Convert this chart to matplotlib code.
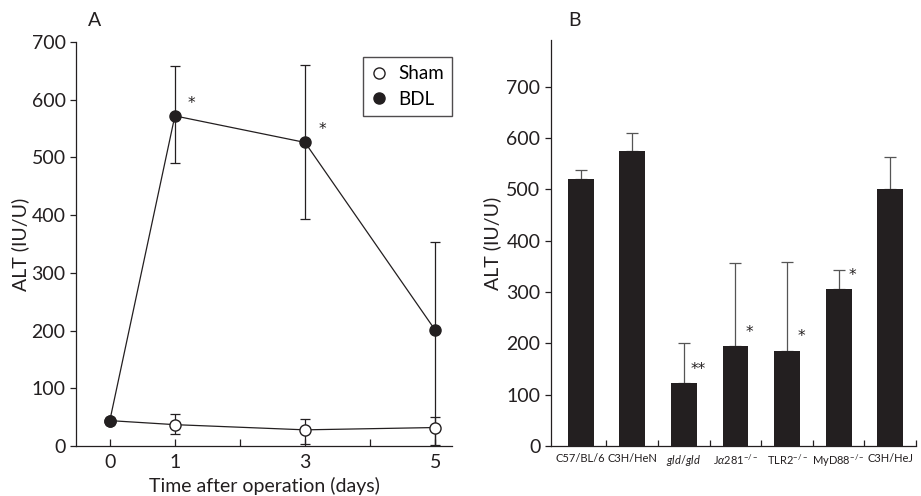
import matplotlib
matplotlib.use("Agg")
import matplotlib.pyplot as plt
from matplotlib.lines import Line2D

plt.rcParams['font.family'] = ['Lato', 'DejaVu Sans']
plt.rcParams['mathtext.fontset'] = 'custom'
plt.rcParams['mathtext.rm'] = 'Lato'
plt.rcParams['mathtext.it'] = 'Lato:italic'

# Panel A data
days = [0, 1, 3, 5]
bdl = [44, 572, 526, 201]
bdl_err_lo = [0, 82, 133, 201]
bdl_err_hi = [0, 86, 135, 152]
sham = [44, 37, 28, 32]
sham_err_lo = [0, 16, 25, 30]
sham_err_hi = [0, 18, 19, 18]
a_stars = [(1, 572, "*"), (3, 526, "*")]

# Panel B data
strains = ["C57/BL/6", "C3H/HeN", r"$\it{gld/gld}$", r"J$\alpha$281$^{-/-}$",
           r"TLR2$^{-/-}$", r"MyD88$^{-/-}$", "C3H/HeJ"]
alt = [520, 575, 123, 195, 186, 306, 501]
alt_err = [17, 34, 78, 161, 172, 36, 62]
b_stars = ["", "", "**", "*", "*", "*", ""]

ink = "#231f20"
fig = plt.figure(figsize=(9.21, 4.96), dpi=100)
star_font = dict(family='DejaVu Sans', fontsize=11, color=ink, ha='center', va='center')

# ---------- Panel A ----------
axA = fig.add_axes([0.0825, 0.1008, 0.4083, 0.8145])
axA.errorbar(days, bdl, yerr=[bdl_err_lo, bdl_err_hi], fmt='none', ecolor=ink,
             elinewidth=0.9, capsize=3.5, capthick=0.9, zorder=2)
axA.errorbar(days, sham, yerr=[sham_err_lo, sham_err_hi], fmt='none', ecolor=ink,
             elinewidth=0.9, capsize=3.5, capthick=0.9, zorder=2)
axA.plot(days, sham, '-o', color=ink, lw=0.9, ms=8, mfc='white', mec=ink,
         mew=1.0, zorder=3)
axA.plot(days, bdl, '-o', color=ink, lw=0.9, ms=8, mfc=ink, mec=ink, zorder=4)
for x, y, s in a_stars:
    axA.text(x + 0.26, y + 22, s, **star_font)
axA.set_xlim(-0.52, 5.26)
axA.set_ylim(0, 700)
axA.set_xticks([0, 1, 2, 3, 4, 5])
axA.set_xticklabels(["0", "1", "", "3", "", "5"])
axA.set_yticks(range(0, 701, 100))
axA.tick_params(axis='x', direction='in', length=5, width=0.9, labelsize=14, pad=6, colors=ink)
axA.tick_params(axis='y', direction='out', length=4, width=0.9, labelsize=14, colors=ink)
for s in ['top', 'right']:
    axA.spines[s].set_visible(False)
for s in ['left', 'bottom']:
    axA.spines[s].set_linewidth(0.9)
    axA.spines[s].set_color(ink)
axA.set_ylabel("ALT (IU/U)", fontsize=14, color=ink, labelpad=2)
axA.set_xlabel("Time after operation (days)", fontsize=14, color=ink, labelpad=4)
handles = [Line2D([], [], ls='none', marker='o', ms=8, mfc='white', mec=ink, mew=1.0),
           Line2D([], [], ls='none', marker='o', ms=8, mfc=ink, mec=ink)]
leg = axA.legend(handles, ['Sham', 'BDL'], loc='upper right', bbox_to_anchor=(1.0, 0.963),
                 borderaxespad=0, fontsize=13.5, frameon=True, fancybox=False,
                 edgecolor=ink, handlelength=0.8, handletextpad=0.6, borderpad=0.45,
                 labelspacing=0.45)
leg.get_frame().set_linewidth(1.0)
fig.text(95 / 921, 1 - 21 / 496, "A", fontsize=14, ha='center', va='center', color=ink)

# ---------- Panel B ----------
axB = fig.add_axes([0.598, 0.1008, 0.3966, 0.8186])
xs = list(range(len(strains)))
axB.bar(xs, alt, width=0.5, color=ink, zorder=3)
axB.errorbar(xs, alt, yerr=[[0] * len(alt), alt_err], fmt='none', ecolor='#555555',
             elinewidth=0.9, capsize=4, capthick=0.9, zorder=2)
for x, y, s in zip(xs, alt, b_stars):
    if s:
        axB.text(x + 0.27, y + 27, s, **star_font)
axB.set_xlim(-0.58, 6.5)
axB.set_ylim(0, 791)
axB.set_yticks(range(0, 701, 100))
axB.set_xticks([x + 0.5 for x in xs])
axB.set_xticklabels([])
axB.set_xticks(xs, minor=True)
axB.set_xticklabels(strains, minor=True, fontsize=8.0, color=ink)
axB.tick_params(axis='x', which='major', direction='in', length=4, width=0.9, colors=ink)
axB.tick_params(axis='x', which='minor', length=0, pad=5)
axB.tick_params(axis='y', direction='out', length=4, width=0.9, labelsize=14, colors=ink)
for s in ['top', 'right']:
    axB.spines[s].set_visible(False)
for s in ['left', 'bottom']:
    axB.spines[s].set_linewidth(0.9)
    axB.spines[s].set_color(ink)
axB.set_ylabel("ALT (IU/U)", fontsize=14, color=ink, labelpad=4)
fig.text(574 / 921, 1 - 21 / 496, "B", fontsize=14, ha='center', va='center', color=ink)

fig.savefig("out.png", dpi=100)
